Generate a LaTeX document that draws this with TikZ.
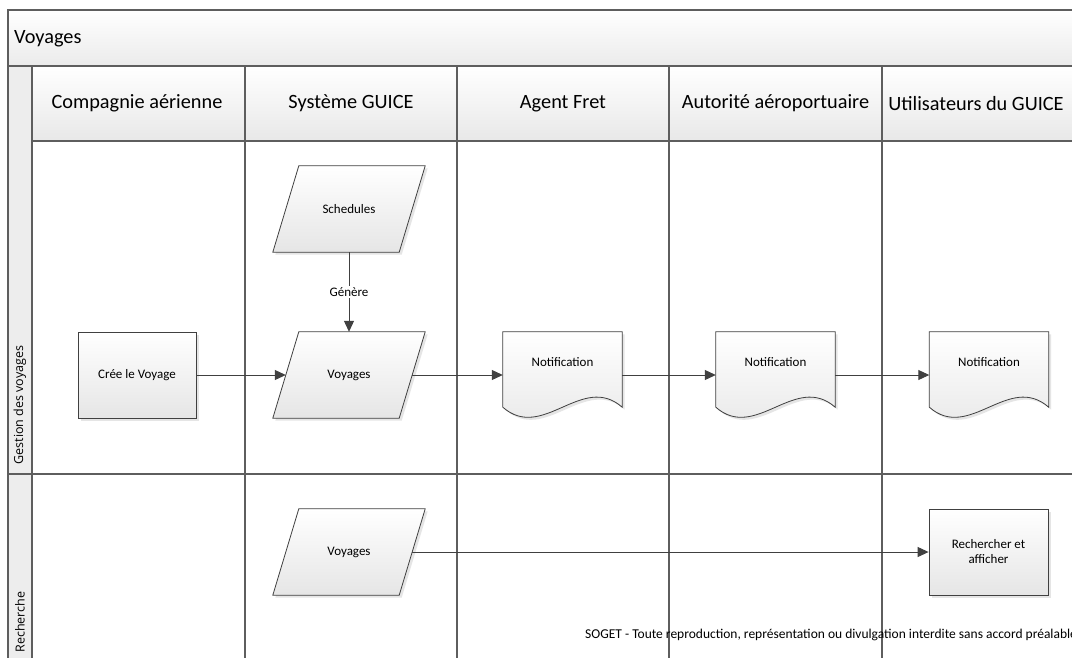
\documentclass[tikz,border=0pt]{standalone}
\usepackage{fontspec}
\setmainfont{Carlito}
\newfontfamily\lanefont{Open Sans}
\usetikzlibrary{arrows.meta,shadows}
\definecolor{lanegray}{HTML}{5E5E5E}
\definecolor{inkgray}{HTML}{404040}

\pgfdeclarelayer{pool}
\pgfdeclarelayer{outline}
\pgfsetlayers{pool,outline,main}

% Outline of a document symbol around a borderless node
\newcommand\docoutline[1]{%
  \path[symline] (#1.north west) -- (#1.north east) -- ([yshift=11pt]#1.south east)
    .. controls ([xshift=-40pt,yshift=46pt]#1.south east) and ([xshift=40pt,yshift=-24pt]#1.south west)
    .. ([yshift=11pt]#1.south west) -- cycle;}
% Outline of a data (parallelogram) symbol around a borderless node
\newcommand\dataoutline[1]{%
  \path[symline] ([xshift=-13pt]#1.south west) -- ([xshift=13pt]#1.north west)
    -- ([xshift=13pt]#1.north east) -- ([xshift=-13pt]#1.south east) -- cycle;}

\begin{document}
\begin{tikzpicture}[x=1pt,y=-1pt,
  lane/.style={draw=lanegray, line width=1.3pt},
  headfill/.style={top color=white, bottom color=black!9, draw=none},
  headtext/.style={font=\fontsize{20.3}{23}\selectfont, inner sep=0pt},
  rowtext/.style={font=\lanefont\fontsize{12.5}{14}\selectfont, rotate=90, inner sep=0pt},
  symline/.style={draw=inkgray, line width=0.8pt, top color=white, bottom color=black!10,
    drop shadow={shadow xshift=2.5pt, shadow yshift=-2.5pt, fill=black!20}},
  symtext/.style={font=\fontsize{13}{15}\selectfont, inner sep=0pt, align=center},
  procbox/.style={symtext, rectangle, symline, minimum width=118pt, minimum height=86pt},
  databox/.style={symtext, rectangle, minimum width=126pt, minimum height=86pt},
  docbox/.style={symtext, rectangle, minimum width=119pt, minimum height=86pt, text depth=27pt},
  flow/.style={draw=inkgray, line width=1pt, -{Triangle[length=11pt,width=10pt]}},
]
\useasboundingbox (0,0) rectangle (1072,657);
\clip (0,0) rectangle (1072,657);

\begin{pgfonlayer}{pool}
% pool background: title band, lane headers, row strip
\fill[white] (0,0) rectangle (1072,657);
\path[top color=white, bottom color=black!8] (8,10) rectangle (1090,66);
\path[headfill] (32,66) rectangle (1090,141);
\fill[black!7] (8,66) rectangle (32,700);
% pool and lane borders
\draw[lane] (8,700) -- (8,10) -- (1090,10);
\draw[lane] (8,66) -- (1090,66);
\draw[lane] (32,141) -- (1090,141);
\draw[lane] (32,66) -- (32,700);
\foreach \x in {245,457,669,882} \draw[lane] (\x,66) -- (\x,700);
\draw[lane] (8,474) -- (1090,474);
\end{pgfonlayer}

% titles
\node[headtext, anchor=west] (title) at (14,39) {Voyages};
\node[headtext] (h1) at (137,103.5) {Compagnie aérienne};
\node[headtext] (h2) at (351,103.5) {Système GUICE};
\node[headtext] (h3) at (563,103.5) {Agent Fret};
\node[headtext] (h4) at (775.5,103.5) {Autorité aéroportuaire};
\node[headtext] (h5) at (976,103.5) {Utilisateurs du GUICE};
\node[rowtext] (r1) at (20,405) {Gestion des voyages};
\node[rowtext] (r2) at (20,622) {Recherche};

% row 1: voyage management
\node[procbox] (cree) at (137,375) {Crée le Voyage};
\node[databox] (sched) at (349,209) {Schedules};
\node[databox] (voy) at (349,375) {Voyages};
\node[docbox] (n1) at (562.5,375) {Notification};
\node[docbox] (n2) at (775.5,375) {Notification};
\node[docbox] (n3) at (989,375) {Notification};

% row 2: search
\node[databox] (voy2) at (349,552) {Voyages};
\node[procbox, minimum width=119pt] (rech) at (988.5,552) {Rechercher et\\afficher};

\begin{pgfonlayer}{outline}
\dataoutline{sched}
\dataoutline{voy}
\dataoutline{voy2}
\docoutline{n1}
\docoutline{n2}
\docoutline{n3}
\end{pgfonlayer}

% connectors
\draw[flow] (sched) -- node[fill=white, inner sep=2pt, font=\fontsize{13}{15}\selectfont] (gen) {Génère} (voy);
\draw[flow] (cree) -- (voy);
\draw[flow] (voy) -- (n1);
\draw[flow] (n1) -- (n2);
\draw[flow] (n2) -- (n3);
\draw[flow] (voy2) -- (rech);

% footer notice
\node[anchor=west, inner sep=0pt, font=\fontsize{13.5}{15}\selectfont] (foot) at (585,635)
  {SOGET - Toute reproduction, représentation ou divulgation interdite sans accord préalable};
\end{tikzpicture}
\end{document}
